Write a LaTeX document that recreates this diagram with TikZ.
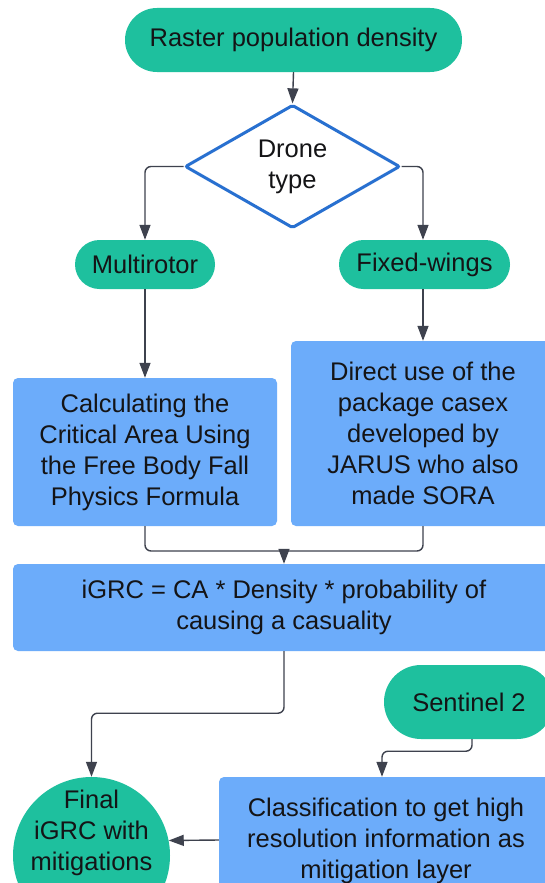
\documentclass[tikz,border=0pt]{standalone}
\usepackage{fontspec}
\setmainfont{Liberation Sans}
\usetikzlibrary{shapes.geometric,arrows.meta,calc}

\definecolor{pillteal}{RGB}{30,192,158}
\definecolor{boxblue}{RGB}{108,172,250}
\definecolor{decblue}{RGB}{40,112,208}
\definecolor{linegray}{RGB}{62,66,78}
\definecolor{ink}{RGB}{20,20,22}

\tikzset{
  txt/.style={text=ink, font=\fontsize{25.5}{31}\selectfont, align=center, inner sep=0pt},
  pill/.style={txt, fill=pillteal, rounded corners=#1},
  bluebox/.style={txt, fill=boxblue, rounded corners=5pt},
  decision/.style={txt, diamond, draw=decblue, line width=3pt, fill=white, rounded corners=2pt},
  arr/.style={draw=linegray, line width=1.4pt, rounded corners=6pt,
              -{Triangle[length=15pt,width=11pt]}},
  link/.style={draw=linegray, line width=1.4pt, rounded corners=6pt},
}

\begin{document}
\begin{tikzpicture}[x=1pt,y=-1pt]
  \fill[white] (0,0) rectangle (544,883);
  \useasboundingbox (0,0) rectangle (544,883);

  % nodes
  \node[pill=32pt, minimum width=337pt, minimum height=64pt] (raster) at (293.5,40) {Raster population density};
  \node[decision, minimum width=215pt, minimum height=93pt] (drone) at (292.5,166.5) {Drone\\type};
  \node[pill=24.5pt, minimum width=140pt, minimum height=49pt] (multi) at (145,264.5) {Multirotor};
  \node[pill=24.5pt, minimum width=171pt, minimum height=49pt] (fixed) at (424.5,264.5) {Fixed-wings};
  \node[bluebox, minimum width=264pt, minimum height=148pt] (calc) at (145,452)
    {Calculating the\\Critical Area Using\\the Free Body Fall\\Physics Formula};
  \node[bluebox, minimum width=264pt, minimum height=185pt] (casex) at (423,433.5)
    {Direct use of the\\package casex\\developed by\\JARUS who also\\made SORA};
  \node[bluebox, minimum width=542pt, minimum height=87pt] (igrc) at (284,607.5)
    {iGRC = CA * Density * probability of\\causing a casuality};
  \node[pill=37pt, minimum width=170pt, minimum height=74pt] (sentinel) at (469,702) {Sentinel 2};
  \node[bluebox, minimum width=334pt, minimum height=136pt] (classif) at (386,845) {};
  \node[txt] (classiftext) at (386,841)
    {Classification to get high\\resolution information as\\mitigation layer};
  \node[circle, fill=pillteal, minimum size=157pt, inner sep=0pt] (final) at (91.5,855.5) {};
  \node[txt] (finaltext) at (91.5,833) {Final\\iGRC with\\mitigations};

  % connectors
  \draw[arr] (raster.south) -- (drone.north);
  \draw[arr] (drone.west) -| (multi.north);
  \draw[arr] (drone.east) -| ($(fixed.north)+(-1.5,0)$);
  \draw[arr] (multi.south) -- (calc.north);
  \draw[arr] (casex.north |- fixed.south) -- (casex.north);

  \coordinate (merge) at (igrc.north |- 0,551);
  \draw[link] (calc.south) |- (merge) -| (casex.south);
  \draw[arr] (merge) -- (igrc.north);

  \draw[arr] (igrc.south) -- ++(0,62) -| (final.north);
  \draw[arr] ($(sentinel.south)+(3,0)$) -- ++(0,12) -| ($(classif.north)+(-4,0)$);
  \draw[arr] ([yshift=5pt]classif.west) -- (final.11);
\end{tikzpicture}
\end{document}
